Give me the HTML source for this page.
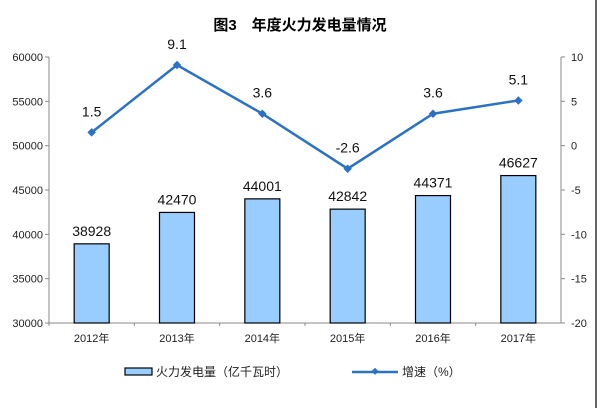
<!DOCTYPE html>
<html><head><meta charset="utf-8"><style>
body{margin:0;background:#fff;}
svg text{font-family:"Liberation Sans","Noto Sans CJK SC",sans-serif;}
</style></head><body>
<svg width="600" height="408" id="c">
<rect x="0" y="0" width="600" height="408" fill="#fff"/>
<line x1="596" y1="0" x2="596" y2="408" stroke="#333" stroke-width="1.5"/>
<text x="300" y="30" text-anchor="middle" font-size="15" font-weight="bold" fill="#000">图3　年度火力发电量情况</text>
<g id="axes"></g><g id="bars"></g><g id="line"></g>
<g>
<rect x="125" y="368" width="27" height="7" fill="#99ccff" stroke="#000" stroke-width="1.2"/>
<text x="156" y="376" font-size="12" fill="#222">火力发电量（亿千瓦时）</text>
<line x1="352" y1="372" x2="398" y2="372" stroke="#2b72c2" stroke-width="2.5"/>
<rect x="372" y="369" width="5" height="5" transform="rotate(45 375 372)" fill="#2b72c2"/>
<text x="402" y="376" font-size="12" fill="#222">增速（%）</text>
</g>
</svg>
<script>
const categories=["2012年","2013年","2014年","2015年","2016年","2017年"];
const generation=[38928,42470,44001,42842,44371,46627];
const growth=[1.5,9.1,3.6,-2.6,3.6,5.1];
const growthLabels=["1.5","9.1","3.6","-2.6","3.6","5.1"];
const leftTicks=[30000,35000,40000,45000,50000,55000,60000];
const rightTicks=[-20,-15,-10,-5,0,5,10];
const NS="http://www.w3.org/2000/svg";
const L=49,R=561,T=57,B=323;
const yL=v=>B-(v-30000)/30000*(B-T);
const yR=v=>B-(v+20)/30*(B-T);
const cw=(R-L)/categories.length;
const xC=i=>L+cw*(i+0.5);
function mk(tag,attrs,parent,txt){const e=document.createElementNS(NS,tag);for(const k in attrs)e.setAttribute(k,attrs[k]);if(txt!==undefined)e.textContent=txt;document.getElementById(parent).appendChild(e);return e;}
let e;
e=mk('line',{x1:L,y1:T,x2:L,y2:B,stroke:'#888'},'axes');


e=mk('line',{x1:R,y1:T,x2:R,y2:B,stroke:'#888'},'axes');


e=mk('line',{x1:L,y1:B,x2:R,y2:B,stroke:'#888'},'axes');


leftTicks.forEach(v=>{
 e=mk('line',{x1:L-4,y1:yL(v),x2:L,y2:yL(v),stroke:'#888'},'axes');
 
 
 e=mk('text',{x:L-6,y:yL(v)+4,'text-anchor':'end','font-size':11,fill:'#222','font-family':'Liberation Serif'},'axes',v);
 
 
});
rightTicks.forEach(v=>{
 e=mk('line',{x1:R,y1:yR(v),x2:R+4,y2:yR(v),stroke:'#888'},'axes');
 
 
 e=mk('text',{x:R+10,y:yR(v)+4,'font-size':11,fill:'#222','font-family':'Liberation Serif'},'axes',v);
 
 
});
categories.forEach((c,i)=>{
 e=mk('line',{x1:L+cw*i,y1:B,x2:L+cw*i,y2:B+3,stroke:'#888'},'axes');
 
 
 e=mk('text',{x:xC(i),y:B+19,'text-anchor':'middle','font-size':11,fill:'#222'},'axes',c);
 
 
 const bw=35,y=yL(generation[i]);
 e=mk('rect',{x:xC(i)-bw/2,y:y,width:bw,height:B-y,fill:'#99ccff',stroke:'#000','stroke-width':1.2},'bars');
 
 
 e=mk('text',{x:xC(i),y:y-8,'text-anchor':'middle','font-size':14,fill:'#111'},'bars',generation[i]);
 
 
});
e=mk('polyline',{points:growth.map((v,i)=>xC(i)+','+yR(v)).join(' '),fill:'none',stroke:'#2b72c2','stroke-width':2.5},'line');


growth.forEach((v,i)=>{
 const x=xC(i),y=yR(v);
 e=mk('rect',{x:x-3,y:y-3,width:6,height:6,fill:'#2b72c2',transform:`rotate(45 ${x} ${y})`},'line');
 
 
 e=mk('text',{x:x,y:y-16,'text-anchor':'middle','font-size':14,fill:'#111'},'line',growthLabels[i]);
 
 
});
</script>
</body></html>
